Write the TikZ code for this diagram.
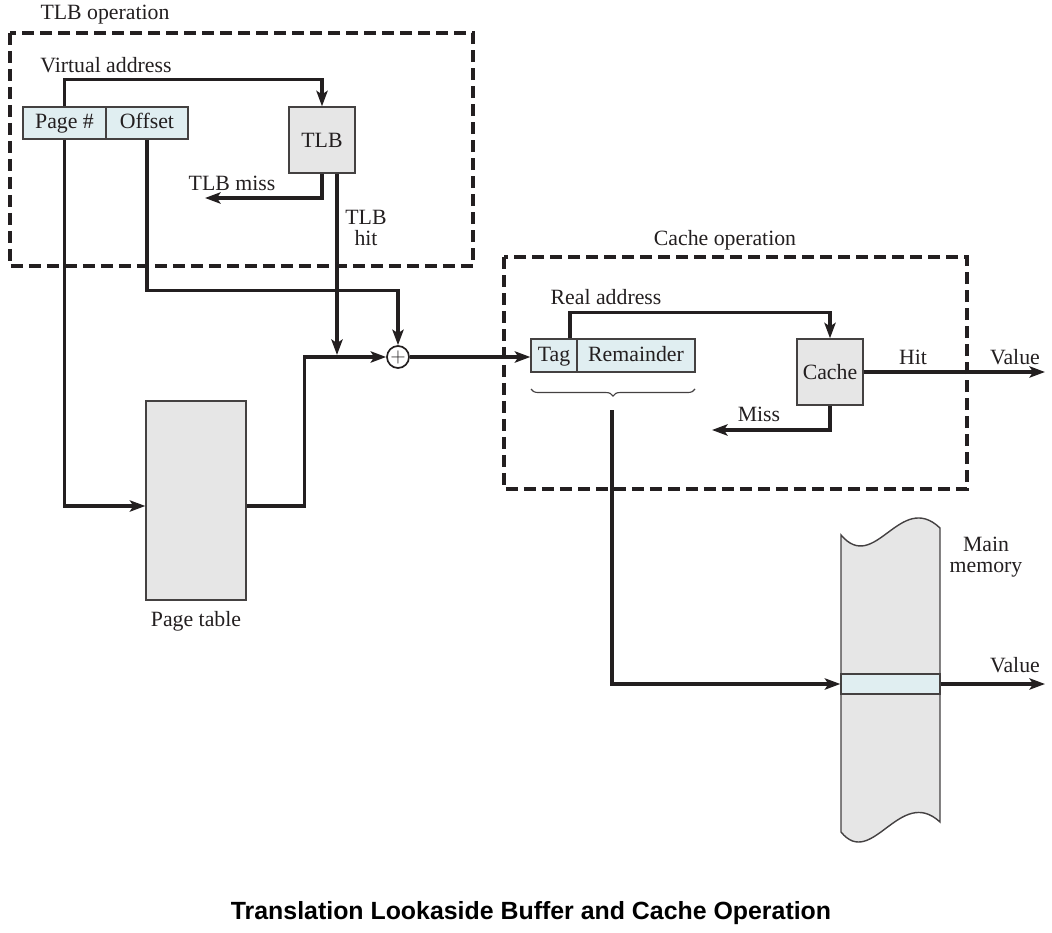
\documentclass[tikz,border=0pt]{standalone}
\usepackage{fontspec}
\setmainfont{Liberation Serif}
\newfontfamily\titlefont{Liberation Sans}
\usetikzlibrary{arrows.meta,positioning,decorations.pathreplacing}

\definecolor{ink}{RGB}{35,31,32}
\definecolor{boxgray}{RGB}{230,230,230}
\definecolor{fieldblue}{RGB}{224,238,241}
\def\pxl{0.025cm}

\tikzset{
  conn/.style={draw=ink, line width=2.2pt, -{Stealth[length=11pt,width=8pt,inset=2.5pt]}},
  fieldbox/.style={draw=ink!85, line width=1pt, fill=fieldblue, minimum height=32*\pxl, inner sep=0pt,
    text height=0.8em, text depth=0pt},
  unitbox/.style={draw=ink!85, line width=1pt, fill=boxgray, minimum width=66*\pxl, minimum height=66*\pxl, inner sep=0pt},
  opbox/.style={draw=ink, line width=2.2pt, dash pattern=on 8.5pt off 4.3pt},
}

\begin{document}
\begin{tikzpicture}[x=\pxl, y=-\pxl, font=\fontsize{15.5}{17}\selectfont, text=ink]
  \useasboundingbox (0,0) rectangle (1052,933);

  % TLB operation
  \draw[opbox] (10,33) rectangle (473,266);
  \node (tlbop) at (105,15) {TLB operation};
  \node (va) at (106,65) {Virtual address};
  \node[fieldbox, minimum width=83*\pxl] (pg) at (64.5,123) {Page \#};
  \node[fieldbox, minimum width=82*\pxl] (off) at (147,123) {Offset};
  \node[unitbox] (tlb) at (322,140) {TLB};
  \node[unitbox, minimum width=100*\pxl, minimum height=199*\pxl] (ptab) at (196,500.5) {};
  \node (ptlbl) [below=4pt of ptab] {Page table};
  \node[draw=ink, line width=1.2pt, circle, fill=white, minimum size=22*\pxl, inner sep=0pt] (sum) at (398,357) {\fontsize{14}{14}\selectfont$+$};

  \coordinate (tlbmiss) at (205,198);
  \coordinate (hitin) at (337,355);
  \node (misslbl) at (232,183) {TLB miss};
  \node[align=center] (hitlbl) at (366,228) {TLB\\[-2pt]hit};

  \draw[conn] (pg.north) -- ++(0,-27) -| (tlb.north);
  \draw[conn] (tlb.south) |- (tlbmiss);
  \draw[conn] ([xshift=15*\pxl]tlb.south) -- (hitin);
  \draw[conn] (off.south) -- ++(0,151) -| (sum.north);
  \draw[conn] (pg.south) |- ([yshift=-5.5*\pxl]ptab.west);
  \draw[conn] ([yshift=-5.5*\pxl]ptab.east) -- ++(58,0) |- (sum.west);

  % Cache operation
  \draw[opbox] (504,257) rectangle (967,489);
  \node (cacheop) at (725,240) {Cache operation};
  \node (ra) at (606,297) {Real address};
  \node[fieldbox, minimum width=46*\pxl, minimum height=33*\pxl] (tag) at (554,355.5) {Tag};
  \node[fieldbox, minimum width=118*\pxl, minimum height=33*\pxl] (rem) at (636,355.5) {Remainder};
  \node[unitbox] (cache) at (830,372) {Cache};
  \node (hitl) at (913,357) {Hit};
  \node (val1) at (1015,357) {Value};
  \node (missl) at (759,414) {Miss};

  \coordinate (valout1) at (1045,372);
  \coordinate (missout) at (712,430);
  \coordinate (brtip) at (612,410);

  \draw[conn] (sum.east) -- (sum.east -| tag.west);
  \draw[conn] ([xshift=16*\pxl]tag.north) -- ++(0,-26) -| (cache.north);
  \draw[conn] (cache.east) -- (valout1);
  \draw[conn] (cache.south) |- (missout);
  \draw[ink!85, line width=0.8pt, decorate, decoration={brace, mirror, amplitude=5pt}] (531,389) -- (695,389);

  % Main memory
  \draw[ink!85, line width=1pt, fill=boxgray] (841,535) .. controls (875,575) and (900,490) .. (940,528)
    -- (940,822) .. controls (900,785) and (872,870) .. (841,832) -- cycle;
  \node[fieldbox, minimum width=99*\pxl, minimum height=20*\pxl] (slot) at (890.5,684) {};
  \node[align=center] (mm) at (986,557) {Main\\[-2pt]memory};
  \node (val2) at (1015,665) {Value};
  \coordinate (valout2) at (1045,684);

  \draw[conn] (brtip) |- (slot.west);
  \draw[conn] (slot.east) -- (valout2);

  \node[font=\titlefont\bfseries\fontsize{17.7}{21}\selectfont, text=black] (title) at (531,913) {Translation Lookaside Buffer and Cache Operation};
\end{tikzpicture}
\end{document}
